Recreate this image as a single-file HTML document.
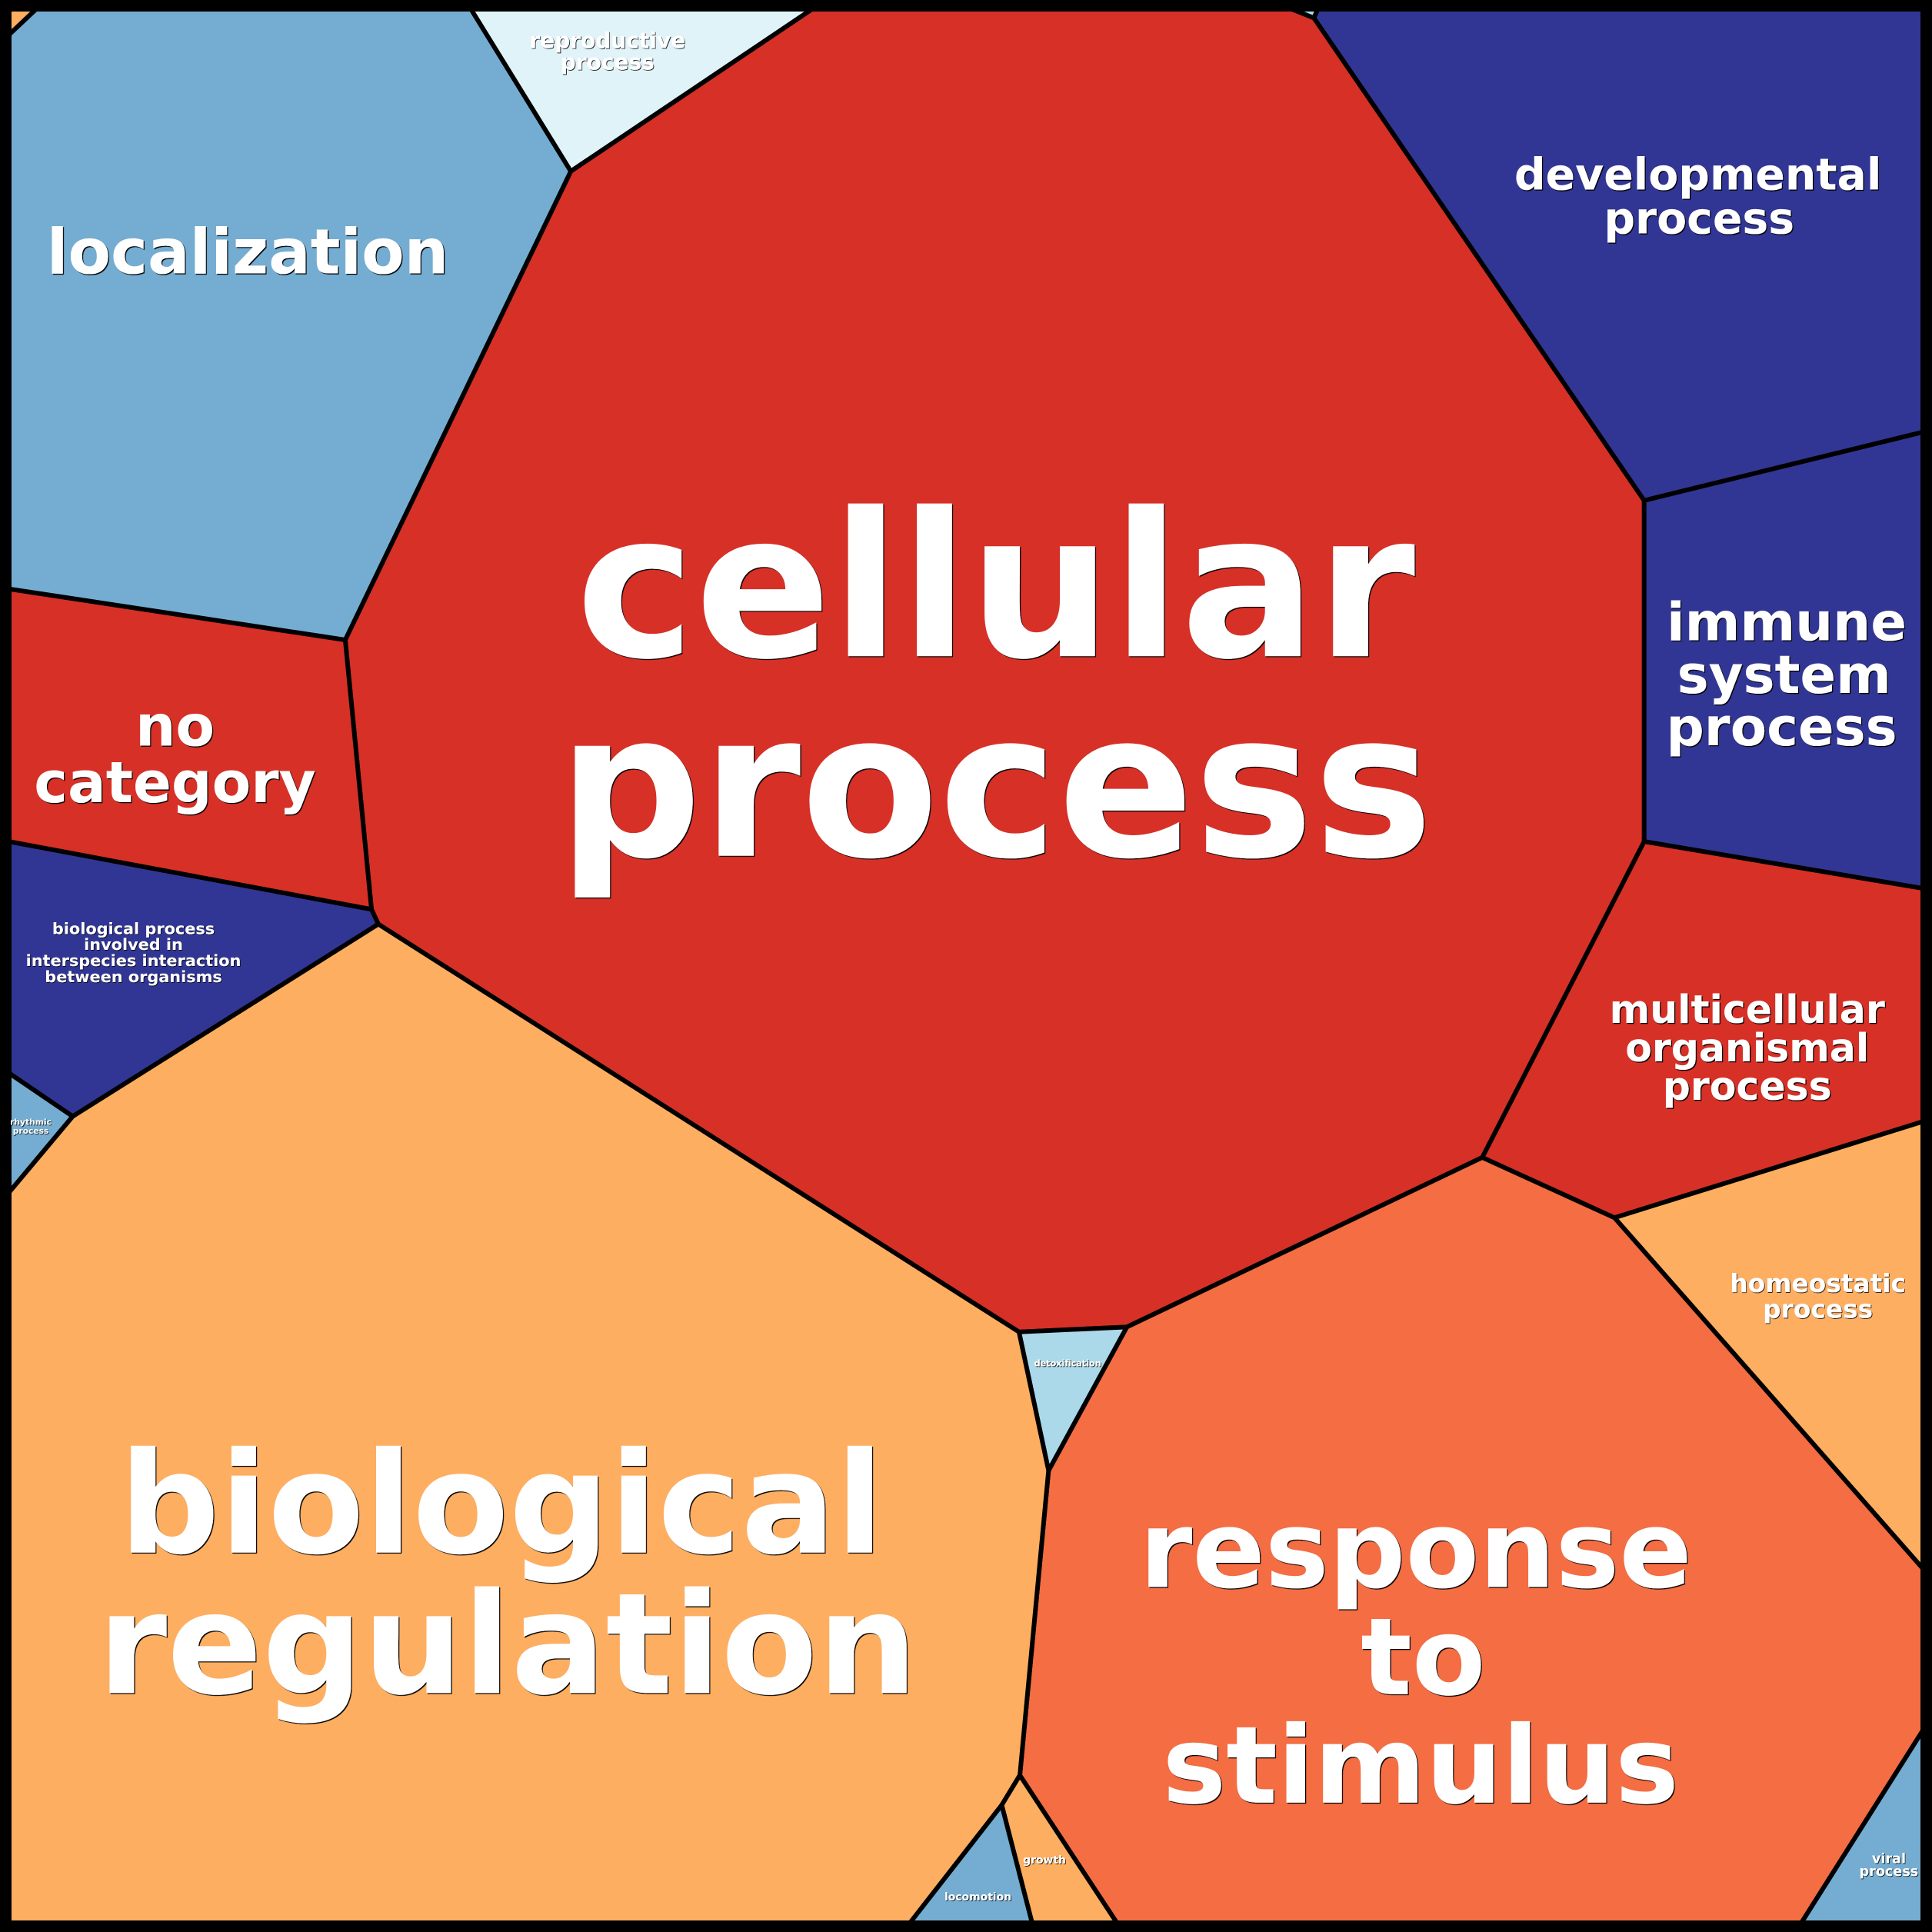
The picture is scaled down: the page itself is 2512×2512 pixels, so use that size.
<!DOCTYPE html>
<html>
<head>
<meta charset="utf-8">
<style>
html,body{margin:0;padding:0;background:#000;}
svg{display:block;}
text{font-family:"DejaVu Sans","Liberation Sans",sans-serif;font-weight:bold;fill:#fff;text-anchor:middle;}
</style>
</head>
<body>
<svg xmlns="http://www.w3.org/2000/svg" width="2512" height="2512" viewBox="0 0 1568 1568">
<defs>
<filter id="sh" x="-5%" y="-5%" width="110%" height="110%">
<feDropShadow dx="0.8" dy="0.8" stdDeviation="0" flood-color="#000" flood-opacity="1"/>
</filter>
<filter id="shs" x="-5%" y="-5%" width="110%" height="110%">
<feDropShadow dx="0.5" dy="0.5" stdDeviation="0" flood-color="#000" flood-opacity="1"/>
</filter>
</defs>
<rect x="0" y="0" width="1568" height="1568" fill="#000"/>
<g stroke="#000" stroke-width="3.7" stroke-linejoin="miter">
<polygon fill="#FDAE61" points="7.5,7.5 29.3,7.5 7.5,28"/>
<polygon fill="#74ADD1" points="29.3,7.5 382.3,7.5 463.3,139 280.2,519.4 7.5,478 7.5,28"/>
<polygon fill="#E0F3F8" points="382.3,7.5 659,7.5 463.3,139"/>
<polygon fill="#D73027" points="659,7.5 1048.7,7.5 1066.4,14.6 1334.4,406.2 1334.4,683 1203,939.4 914.5,1077 827,1081 307,750 301.5,738 280.2,519.4 463.3,139"/>
<polygon fill="#ABD9E9" points="1048.7,7.5 1069.4,7.5 1066.4,14.6"/>
<polygon fill="#313695" points="1069.4,7.5 1560.5,7.5 1560.5,350.7 1334.4,406.2 1066.4,14.6"/>
<polygon fill="#313695" points="1334.4,406.2 1560.5,350.7 1560.5,721 1334.4,683"/>
<polygon fill="#D73027" points="1334.4,683 1560.5,721 1560.5,910.3 1310.3,988.3 1203,939.4"/>
<polygon fill="#FDAE61" points="1310.3,988.3 1560.5,910.3 1560.5,1273"/>
<polygon fill="#F46D43" points="914.5,1077 1203,939.4 1310.3,988.3 1560.5,1273 1560.5,1404.5 1462,1560.5 906.4,1560.5 827.7,1440.8 851,1193.5"/>
<polygon fill="#74ADD1" points="1560.5,1404.5 1560.5,1560.5 1462,1560.5"/>
<polygon fill="#ABD9E9" points="827,1081 914.5,1077 851,1193.5"/>
<polygon fill="#FDAE61" points="307,750 827,1081 851,1193.5 827.7,1440.8 813,1465 738.6,1560.5 7.5,1560.5 7.5,967.5 59,906"/>
<polygon fill="#FDAE61" points="827.7,1440.8 906.4,1560.5 837.6,1560.5 813,1465"/>
<polygon fill="#74ADD1" points="813,1465 837.6,1560.5 738.6,1560.5"/>
<polygon fill="#74ADD1" points="7.5,871 59,906 7.5,967.5"/>
<polygon fill="#313695" points="7.5,683 301.5,738 307,750 59,906 7.5,871"/>
<polygon fill="#D73027" points="7.5,478 280.2,519.4 301.5,738 7.5,683"/>
</g>
<rect x="3.6" y="3.6" width="1560.8" height="1560.8" fill="none" stroke="#000" stroke-width="7.2"/>

<g filter="url(#sh)">
<text x="808" y="532.5" font-size="163">cellular</text>
<text x="808" y="694.5" font-size="163">process</text>
<text x="407" y="1260" font-size="114">biological</text>
<text x="412" y="1374" font-size="114">regulation</text>
<text x="1149" y="1288" font-size="87">response</text>
<text x="1155" y="1375" font-size="87">to</text>
<text x="1153" y="1463" font-size="87">stimulus</text>
<text x="201" y="222" font-size="50.5">localization</text>
<text x="142" y="605.3" font-size="46">no</text>
<text x="142" y="651" font-size="46">category</text>
<text x="1378" y="154" font-size="35.5">developmental</text>
<text x="1379" y="189.4" font-size="35.5">process</text>
<text x="1450" y="519.8" font-size="43">immune</text>
<text x="1448" y="562.3" font-size="43">system</text>
<text x="1446" y="604.7" font-size="43">process</text>
<text x="1418" y="830.2" font-size="31.5">multicellular</text>
<text x="1418" y="861.4" font-size="31.5">organismal</text>
<text x="1418" y="892.6" font-size="31.5">process</text>
</g>
<g filter="url(#shs)">
<text x="1475.4" y="1048.7" font-size="20.5">homeostatic</text>
<text x="1475.4" y="1069.5" font-size="20.5">process</text>
<text x="493" y="39.1" font-size="17.5">reproductive</text>
<text x="493" y="56.6" font-size="17.5">process</text>
<text x="108.3" y="758" font-size="13">biological process</text>
<text x="108.3" y="771" font-size="13">involved in</text>
<text x="108.3" y="784" font-size="13">interspecies interaction</text>
<text x="108.3" y="797" font-size="13">between organisms</text>
<text x="1533" y="1512" font-size="11">viral</text>
<text x="1533" y="1522.5" font-size="11">process</text>
<text x="866.5" y="1109" font-size="7">detoxification</text>
<text x="847.7" y="1512.6" font-size="8.7">growth</text>
<text x="793.7" y="1542.5" font-size="8.7">locomotion</text>
<text x="25" y="913" font-size="6.7">rhythmic</text>
<text x="25" y="920" font-size="6.7">process</text>
</g>
</svg>
</body>
</html>
